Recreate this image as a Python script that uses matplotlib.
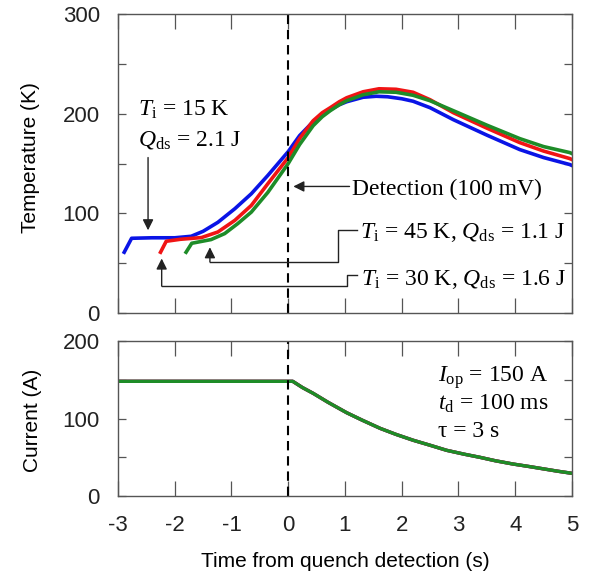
import matplotlib
matplotlib.use("Agg")
import matplotlib.pyplot as plt

plt.rcParams['font.family'] = 'Liberation Sans'
plt.rcParams['axes.unicode_minus'] = False
plt.rcParams['mathtext.fontset'] = 'custom'
plt.rcParams['mathtext.rm'] = 'Liberation Serif'
plt.rcParams['mathtext.it'] = 'Liberation Serif:italic'

# temperature traces
t_blue = [-2.89, -2.76, -2.4, -2.0, -1.71, -1.5, -1.24, -0.94, -0.65, -0.36, 0.0, 0.2,
          0.44, 0.6, 0.74, 0.9, 1.03, 1.32, 1.55, 1.75, 2.0, 2.2, 2.5, 2.91, 3.5, 4.08,
          4.5, 4.96, 5.0]
T_blue = [61, 75, 75.5, 75.5, 77, 82, 91, 104.7, 119.7, 138, 162, 178,
          192, 199, 204, 209, 212, 216.5, 217.5, 217, 215, 212.5, 206, 194, 178.5, 164,
          156, 149, 148]

t_red = [-2.25, -2.15, -1.9, -1.53, -1.24, -0.94, -0.65, -0.36, 0.0, 0.2,
         0.44, 0.6, 0.74, 0.9, 1.03, 1.32, 1.6, 1.9, 2.2, 2.5, 2.91, 3.5, 4.08,
         4.5, 4.96, 5.0]
T_red = [61, 72, 74, 75.7, 81.3, 93, 108, 129.7, 156, 175,
         193, 201, 206, 212, 216, 222, 225, 224.5, 221.5, 214, 201, 185.5, 171,
         162.5, 155, 154]

t_green = [-1.80, -1.70, -1.36, -1.12, -0.89, -0.65, -0.36, 0.0, 0.2,
           0.44, 0.6, 0.74, 0.9, 1.03, 1.32, 1.6, 1.9, 2.2, 2.5, 2.91, 3.5, 4.08,
           4.5, 4.96, 5.0]
T_green = [61, 70, 73.7, 79.7, 89.7, 101.3, 121, 150, 169,
           188, 197, 203, 209, 213, 219, 222, 221.5, 218.5, 213, 203, 188.5, 175,
           167, 161, 160]

# current (all three runs overlap)
t_cur = [-3.0, 0.08, 0.25, 0.44, 0.7, 1.03, 1.3, 1.62, 1.9, 2.2, 2.5, 2.79, 3.1,
         3.38, 3.65, 3.96, 4.25, 4.5, 4.75, 5.0]
I_cur = [148, 148, 140, 132.5, 121, 107.5, 98, 87.3, 79.5, 72, 65.5, 59, 54,
         49.9, 45.5, 41.3, 38, 35, 32, 29.3]

blue = '#0a14e6'
red = '#f01414'
green = '#1e8c28'
frame = '#555555'

fig = plt.figure(figsize=(5.89, 5.80), dpi=100)
ax1 = fig.add_axes([0.2003, 0.4603, 0.7708, 0.5155])
ax2 = fig.add_axes([0.2003, 0.1448, 0.7708, 0.2672])

ax1.plot(t_blue, T_blue, color=blue, lw=2.6)
ax1.plot(t_red, T_red, color=red, lw=2.6)
ax1.plot(t_green, T_green, color=green, lw=2.6)

ax2.plot(t_cur, I_cur, color=blue, lw=2.4)
ax2.plot(t_cur, I_cur, color=red, lw=2.4)
ax2.plot(t_cur, I_cur, color=green, lw=2.4)

for ax in (ax1, ax2):
    ax.axvline(0, color='k', ls=(0, (4.5, 2.8)), lw=1.5)
    ax.set_xlim(-3, 5)
    ax.set_xticks(range(-3, 6))
    for s in ax.spines.values():
        s.set_color(frame)
        s.set_linewidth(1.0)
    ax.tick_params(axis='both', direction='in', top=True, right=True,
                   color=frame, width=0.9, labelsize=16, labelcolor='#222222')
    ax.tick_params(axis='x', length=11, pad=14)
    ax.tick_params(axis='y', length=6, pad=13)

ax1.set_ylim(0, 300)
ax1.set_yticks(range(0, 301, 50))
ax1.set_yticklabels(['0', '', '100', '', '200', '', '300'])
ax1.tick_params(axis='x', labelbottom=False)
ax1.set_ylabel('Temperature (K)', fontsize=15)
ax1.yaxis.set_label_coords(-0.172, 0.52)

ax2.set_ylim(0, 200)
ax2.set_yticks(range(0, 201, 50))
ax2.set_yticklabels(['0', '', '100', '', '200'])
ax2.set_ylabel('Current (A)', fontsize=15)
ax2.yaxis.set_label_coords(-0.167, 0.49)
ax2.set_xlabel('Time from quench detection (s)', fontsize=15, labelpad=11)

# annotations
serif = 'Liberation Serif'
fs = 17
arr = dict(arrowstyle='-|>', color='#222222', lw=1.0, mutation_scale=16,
           shrinkA=0, shrinkB=0)
ln = dict(color='#222222', lw=1.0)

ax1.text(-2.65, 198, r'$T_\mathrm{i}$ = 15 K', family=serif, fontsize=fs, va='baseline')
ax1.text(-2.65, 168, r'$Q_\mathrm{ds}$ = 2.1 J', family=serif, fontsize=fs, va='baseline')
ax1.annotate('', xy=(-2.47, 83), xytext=(-2.47, 156), arrowprops=arr)

ax1.text(1.12, 118, 'Detection (100 mV)', family=serif, fontsize=fs, va='baseline')
ax1.annotate('', xy=(0.09, 127), xytext=(1.08, 127), arrowprops=arr)

ax1.text(1.27, 75, r'$T_\mathrm{i}$ = 45 K, $Q_\mathrm{ds}$ = 1.1 J',
         family=serif, fontsize=fs, va='baseline')
ax1.plot([1.22, 0.88, 0.88, -1.38], [83, 83, 51.3, 51.3], **ln)
ax1.annotate('', xy=(-1.38, 66), xytext=(-1.38, 51.3), arrowprops=arr)

ax1.text(1.28, 28, r'$T_\mathrm{i}$ = 30 K, $Q_\mathrm{ds}$ = 1.6 J',
         family=serif, fontsize=fs, va='baseline')
ax1.plot([1.22, 1.03, 1.03, -2.23], [38, 38, 27, 27], **ln)
ax1.annotate('', xy=(-2.23, 54.7), xytext=(-2.23, 27), arrowprops=arr)

ax2.text(2.64, 147.5, r'$I_\mathrm{op}$ = 150 A', family=serif, fontsize=fs, va='baseline')
ax2.text(2.64, 111, r'$t_\mathrm{d}$ = 100 ms', family=serif, fontsize=fs, va='baseline')
ax2.text(2.64, 76.5, 'τ = 3 s', family=serif, fontsize=fs, va='baseline')

fig.savefig('out.png', dpi=100)
